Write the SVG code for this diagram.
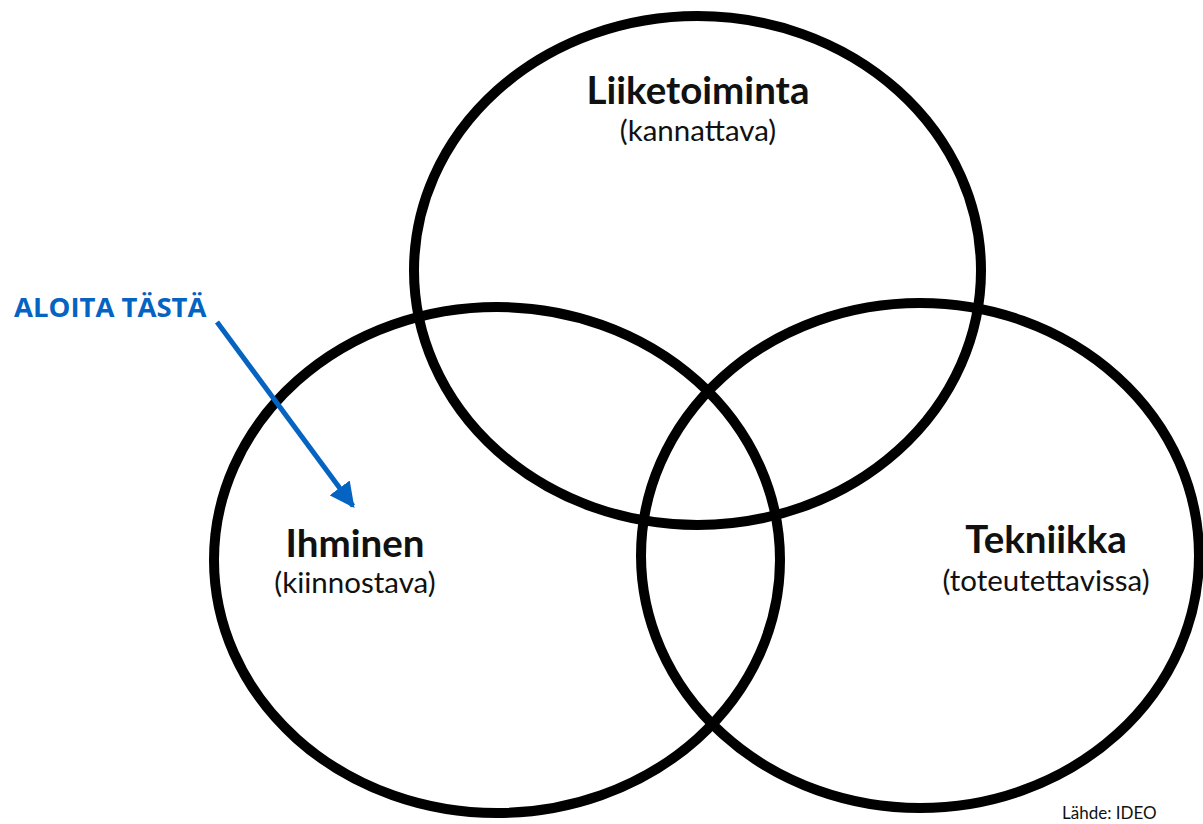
<svg xmlns="http://www.w3.org/2000/svg" width="1203" height="824" viewBox="0 0 1203 824">
  <style>
    .ring { fill: none; stroke: #000; stroke-width: 10; }
    .title { font-family: Lato, "Liberation Sans", sans-serif; font-weight: 700; font-size: 38.5px; fill: #111; text-anchor: middle; }
    .sub { font-family: Lato, "Liberation Sans", sans-serif; font-size: 29.5px; fill: #111; text-anchor: middle; }
    .start { font-family: "Open Sans", "Liberation Sans", sans-serif; font-weight: 700; font-size: 27.5px; fill: #0563C1; }
    .src { font-family: Lato, "Liberation Sans", sans-serif; font-size: 17px; fill: #111; }
  </style>
  <defs>
    <marker id="head" viewBox="0 0 10 10" refX="9" refY="5" markerWidth="5" markerHeight="5" markerUnits="strokeWidth" orient="auto">
      <path d="M0,0 L10,5 L0,10 z" fill="#0563C1"/>
    </marker>
  </defs>
  <rect width="1203" height="824" fill="#fff"/>

  <g id="liiketoiminta">
    <ellipse class="ring" cx="697.5" cy="270.5" rx="283.5" ry="254.5"/>
    <text class="title" x="698" y="104">Liiketoiminta</text>
    <text class="sub" x="698" y="141">(kannattava)</text>
  </g>

  <g id="ihminen">
    <ellipse class="ring" cx="497" cy="560" rx="283" ry="253"/>
    <text class="title" x="355" y="557">Ihminen</text>
    <text class="sub" x="355" y="593">(kiinnostava)</text>
  </g>

  <g id="tekniikka">
    <ellipse class="ring" cx="920" cy="555.5" rx="279" ry="252.5"/>
    <text class="title" x="1046" y="553">Tekniikka</text>
    <text class="sub" x="1046" y="591">(toteutettavissa)</text>
  </g>

  <g id="aloita">
    <text class="start" x="14" y="317">ALOITA TÄSTÄ</text>
  </g>

  <g id="connectors">
    <line x1="217" y1="322" x2="353" y2="506" stroke="#0563C1" stroke-width="5" marker-end="url(#head)"/>
  </g>

  <text class="src" x="1062" y="819">Lähde: IDEO</text>
</svg>
